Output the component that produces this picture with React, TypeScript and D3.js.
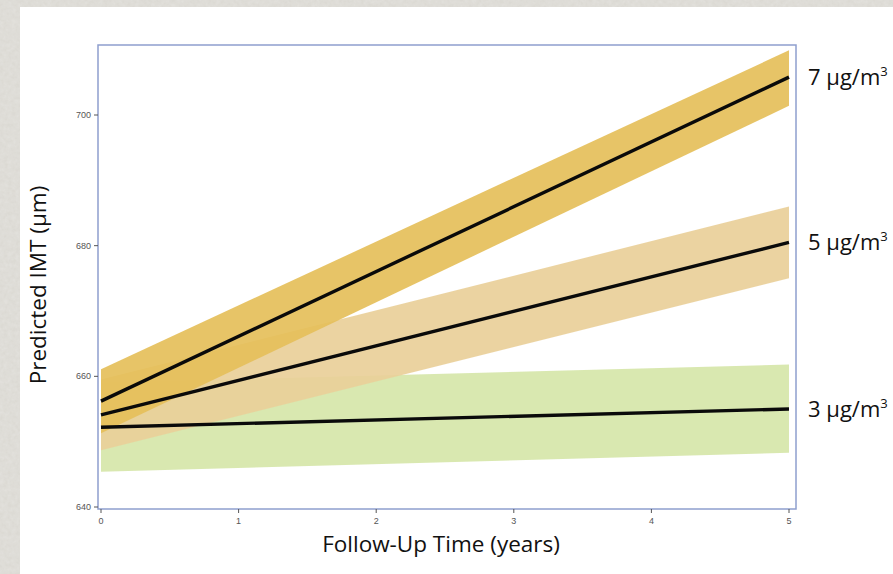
import React from "react";
import * as d3 from "d3";

const years = [0, 5];
const xTicks = [0, 1, 2, 3, 4, 5];
const yTicks = [640, 660, 680, 700];
const seriesLabels = ["3", "5", "7"];
const mean3 = [652.2, 655.0];
const lower3 = [645.4, 648.3];
const upper3 = [659.0, 661.8];
const mean5 = [654.1, 680.5];
const lower5 = [648.7, 675.0];
const upper5 = [659.5, 686.0];
const mean7 = [656.2, 705.8];
const lower7 = [651.3, 701.4];
const upper7 = [661.1, 709.9];

const W = 893;
const H = 574;
const frame = { left: 98, right: 796, top: 45, bottom: 509 };

export default function App() {
  const x = d3.scaleLinear().domain([0, 5]).range([101, 789]);
  const y = d3.scaleLinear().domain([640, 700]).range([507, 115]);

  const series = [
    { label: seriesLabels[0], mean: mean3, lo: lower3, hi: upper3, fill: "#d6e6a9" },
    { label: seriesLabels[1], mean: mean5, lo: lower5, hi: upper5, fill: "#e9cf99" },
    { label: seriesLabels[2], mean: mean7, lo: lower7, hi: upper7, fill: "#e5bf5a" },
  ];

  const bandPath = (lo: number[], hi: number[]) =>
    d3
      .area<number>()
      .x((d) => x(d))
      .y0((_, i) => y(lo[i]))
      .y1((_, i) => y(hi[i]))(years) as string;

  const linePath = (m: number[]) =>
    d3
      .line<number>()
      .x((d) => x(d))
      .y((_, i) => y(m[i]))(years) as string;

  const axisColor = "#8e9fce";
  const titleFont = "Open Sans, Noto Sans, sans-serif";

  return (
    <div style={{ position: "fixed", left: 0, top: 0 }}>
      <svg width={W} height={H} style={{ display: "block" }}>
        <defs>
          <filter id="tex" x="0" y="0" width="100%" height="100%">
            <feTurbulence type="fractalNoise" baseFrequency="0.25" numOctaves="3" seed="3" />
            <feColorMatrix
              type="matrix"
              values="0 0 0 0 0.78  0 0 0 0 0.77  0 0 0 0 0.74  0 0 0 -1.4 1.2"
            />
          </filter>
          <clipPath id="plotClip">
            <rect
              x={frame.left}
              y={frame.top}
              width={frame.right - frame.left}
              height={frame.bottom - frame.top}
            />
          </clipPath>
        </defs>
        <rect x={0} y={0} width={W} height={H} fill="#dbd9d3" />
        <rect x={0} y={0} width={W} height={H} fill="#c9c6bf" filter="url(#tex)" opacity={0.7} />
        <rect x={20} y={7} width={W - 20} height={H} fill="#ffffff" />

        <g clipPath="url(#plotClip)">
          {series.map((s) => (
            <path key={"b" + s.label} d={bandPath(s.lo, s.hi)} fill={s.fill} opacity={0.92} />
          ))}
          {series.map((s) => (
            <path
              key={"l" + s.label}
              d={linePath(s.mean)}
              fill="none"
              stroke="#0a0a0a"
              strokeWidth={3.4}
            />
          ))}
        </g>

        <rect
          x={frame.left}
          y={frame.top}
          width={frame.right - frame.left}
          height={frame.bottom - frame.top}
          fill="none"
          stroke={axisColor}
          strokeWidth={1.5}
        />

        {yTicks.map((t) => (
          <g key={"y" + t}>
            <line x1={frame.left - 4} x2={frame.left} y1={y(t)} y2={y(t)} stroke="#555" strokeWidth={1} />
            <text
              x={frame.left - 7}
              y={y(t)}
              dy="0.35em"
              textAnchor="end"
              fontFamily="Liberation Sans, Arial, sans-serif"
              fontSize={9}
              fill="#555"
            >
              {t}
            </text>
          </g>
        ))}
        {xTicks.map((t) => (
          <g key={"x" + t}>
            <line x1={x(t)} x2={x(t)} y1={frame.bottom} y2={frame.bottom + 4} stroke="#555" strokeWidth={1} />
            <text
              x={x(t)}
              y={frame.bottom + 15}
              textAnchor="middle"
              fontFamily="Liberation Sans, Arial, sans-serif"
              fontSize={9}
              fill="#555"
            >
              {t}
            </text>
          </g>
        ))}

        <text
          transform={`translate(46, 285) rotate(-90)`}
          textAnchor="middle"
          fontFamily={titleFont}
          fontSize={22.5}
          fill="#111"
        >
          Predicted IMT (µm)
        </text>
        <text
          x={441}
          y={552}
          textAnchor="middle"
          fontFamily={titleFont}
          fontSize={22.5}
          fill="#111"
        >
          Follow-Up Time (years)
        </text>

        {series.map((s) => (
          <text
            key={"t" + s.label}
            x={x(5) + 19}
            y={y(s.mean[1]) + 8}
            fontFamily={titleFont}
            fontSize={22}
            fill="#111"
          >
            {s.label} µg/m
            <tspan dy={-9} fontSize={13}>
              3
            </tspan>
          </text>
        ))}
      </svg>
    </div>
  );
}
